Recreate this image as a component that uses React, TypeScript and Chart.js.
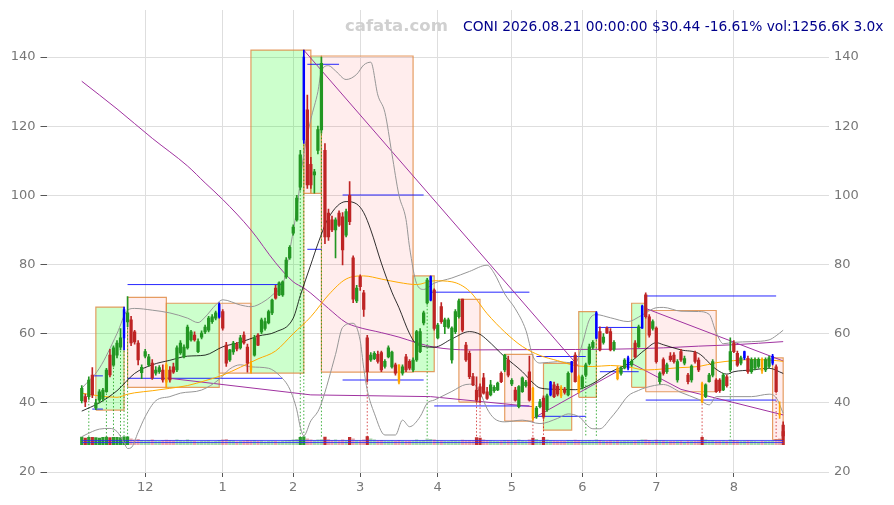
import React, { useEffect, useRef } from 'react';
import { Chart, registerables } from 'chart.js';

Chart.register(...registerables);

// ---------------- data ----------------
const OPEN = [
  40.6, 41.8, 41.8, 48.0, 38.5, 40.8, 41.1, 43.2, 53.8, 50.9,
  53.8, 56.1, 58.8, 63.4, 64.0, 60.5, 57.3, 48.7, 53.5, 51.0,
  51.5, 48.6, 49.0, 49.5, 51.0, 49.5, 50.4, 49.5, 54.4, 53.3,
  55.9, 58.2, 59.6, 54.8, 59.0, 60.5, 61.0, 63.5, 64.5, 64.8,
  66.4, 56.7, 52.4, 54.7, 57.0, 55.9, 59.6, 56.1, 51.0, 53.8,
  59.6, 60.5, 61.5, 63.1, 66.0, 73.2, 71.2, 71.2, 76.4, 81.9,
  89.1, 92.9, 102.4, 116.0, 124.7, 109.0, 105.9, 113.0, 118.9, 113.0,
  94.9, 92.9, 90.0, 94.9, 93.8, 88.5, 100.0, 81.9, 69.5, 76.5,
  71.8, 58.8, 52.4, 52.8, 54.0, 54.5, 50.5, 53.3, 50.4, 51.0,
  51.0, 48.6, 53.3, 52.0, 49.5, 52.4, 54.8, 63.1, 68.9, 69.7,
  72.6, 58.8, 67.8, 62.0, 61.9, 52.4, 60.6, 64.9, 70.0, 56.7,
  54.3, 47.6, 43.7, 44.6, 47.2, 43.2, 42.3, 43.5, 43.7, 48.5,
  49.5, 52.4, 45.5, 43.7, 38.9, 43.2, 45.0, 49.0, 44.2, 35.9,
  38.9, 41.4, 38.0, 42.3, 45.2, 44.8, 44.5, 44.0, 42.3, 49.0,
  53.8, 47.6, 44.5, 48.0, 51.4, 56.0, 58.7, 60.6, 57.5, 61.6,
  60.6, 55.5, 50.0, 48.5, 50.1, 50.0, 51.0, 57.3, 56.2, 61.6,
  71.2, 64.9, 61.5, 61.6, 46.1, 52.5, 49.0, 53.5, 53.8, 46.6,
  54.8, 51.5, 48.0, 46.6, 54.5, 52.4, 45.6, 41.8, 46.1, 48.0,
  46.6, 46.6, 43.7, 47.5, 49.5, 57.2, 54.3, 51.5, 53.0, 52.9,
  49.0, 50.0, 50.5, 52.5, 49.5, 50.5, 51.5, 50.4, 37.0, 33.6,
];
const HIGH = [
  45.0, 42.5, 47.5, 50.2, 41.0, 43.8, 44.2, 50.0, 55.5, 56.5,
  58.0, 61.5, 67.7, 70.7, 65.0, 61.0, 58.0, 51.0, 55.5, 54.0,
  52.5, 50.5, 50.8, 51.0, 51.5, 50.5, 51.5, 56.5, 58.0, 56.8,
  62.5, 61.0, 60.5, 58.5, 60.8, 62.5, 65.0, 65.5, 66.5, 68.9,
  67.0, 57.5, 55.5, 57.8, 57.5, 59.5, 60.5, 57.0, 52.0, 59.5,
  60.0, 64.5, 64.5, 66.8, 70.0, 74.0, 75.0, 75.3, 82.0, 85.5,
  91.5, 100.0, 113.0, 142.0, 129.0, 111.0, 107.5, 120.0, 140.0, 115.0,
  96.0, 94.0, 93.5, 95.5, 95.0, 96.0, 104.0, 82.5, 74.0, 77.0,
  72.5, 59.5, 54.5, 54.8, 55.0, 55.0, 52.5, 56.5, 55.0, 51.5,
  51.0, 51.0, 54.0, 52.5, 53.0, 61.0, 61.5, 66.5, 76.0, 76.7,
  73.0, 63.0, 69.0, 64.5, 64.5, 62.0, 67.0, 70.0, 70.0, 57.5,
  55.0, 48.5, 47.5, 45.5, 48.5, 44.5, 46.5, 45.0, 46.0, 49.0,
  54.0, 53.5, 47.0, 44.5, 45.0, 47.5, 46.5, 53.5, 44.5, 39.0,
  41.0, 42.0, 42.5, 46.2, 46.0, 45.5, 45.0, 44.5, 49.0, 52.0,
  54.5, 48.0, 48.0, 51.5, 57.0, 58.0, 66.4, 62.0, 60.0, 62.0,
  61.5, 58.0, 50.5, 50.5, 52.8, 53.5, 52.5, 58.0, 62.5, 68.3,
  71.8, 65.5, 64.0, 62.0, 49.0, 53.0, 51.5, 54.5, 54.5, 52.5,
  55.5, 53.5, 48.5, 51.0, 55.0, 53.0, 46.0, 45.5, 48.5, 52.5,
  47.0, 47.0, 48.5, 48.0, 58.8, 58.0, 55.0, 53.5, 55.0, 53.5,
  53.0, 53.0, 53.0, 53.0, 53.0, 53.5, 54.0, 51.0, 40.3, 34.5,
];
const LOW = [
  40.0, 38.9, 41.0, 41.5, 38.0, 40.0, 40.5, 43.0, 47.5, 50.5,
  53.0, 55.3, 55.3, 62.0, 56.5, 57.0, 51.0, 47.0, 53.0, 50.5,
  46.8, 48.0, 48.5, 46.0, 44.3, 46.0, 48.5, 49.0, 54.0, 53.0,
  55.5, 57.8, 57.8, 54.5, 58.5, 60.0, 60.5, 63.0, 64.0, 64.5,
  61.0, 50.5, 52.0, 54.0, 55.0, 55.5, 57.0, 48.9, 48.6, 53.5,
  56.5, 60.0, 61.0, 62.8, 65.5, 70.0, 71.0, 70.8, 76.0, 81.5,
  88.5, 92.5, 101.5, 115.0, 102.0, 102.0, 100.6, 112.0, 118.0, 86.0,
  87.0, 89.5, 81.9, 91.0, 79.9, 88.0, 91.5, 69.0, 69.0, 72.5,
  65.0, 46.0, 52.0, 52.5, 51.5, 49.0, 50.0, 53.0, 50.0, 48.0,
  45.5, 48.0, 49.0, 49.5, 49.0, 52.0, 54.5, 62.5, 68.5, 69.5,
  61.0, 58.5, 63.0, 60.0, 61.5, 51.5, 60.0, 64.5, 60.5, 52.0,
  47.0, 45.0, 40.2, 40.0, 42.5, 41.0, 42.0, 43.0, 43.5, 45.8,
  49.0, 47.5, 45.0, 40.5, 38.5, 43.0, 44.5, 40.5, 35.0, 35.5,
  38.5, 35.5, 37.5, 42.0, 41.5, 42.0, 41.5, 42.5, 42.0, 48.8,
  46.0, 42.8, 44.0, 47.5, 51.0, 55.5, 58.5, 55.0, 57.0, 60.0,
  55.0, 55.0, 46.6, 48.0, 49.8, 49.5, 50.5, 53.0, 56.0, 61.5,
  64.5, 59.0, 61.0, 51.5, 45.5, 48.0, 48.5, 52.0, 51.5, 46.0,
  52.0, 51.0, 45.5, 46.0, 51.5, 49.0, 40.0, 41.5, 46.0, 47.5,
  43.0, 43.0, 43.5, 44.5, 49.0, 54.5, 50.5, 51.0, 52.5, 48.5,
  48.5, 49.5, 50.0, 48.5, 49.0, 50.0, 51.0, 43.0, 35.5, 29.5,
];
const CLOSE = [
  44.2, 40.3, 46.6, 42.3, 40.0, 43.2, 43.7, 49.5, 48.1, 55.9,
  57.3, 58.8, 67.0, 66.0, 57.3, 57.6, 52.4, 50.3, 54.8, 53.3,
  47.2, 49.5, 50.2, 46.6, 46.0, 46.6, 48.9, 55.9, 57.3, 56.1,
  61.9, 60.5, 58.2, 57.7, 60.2, 61.9, 64.5, 64.9, 66.0, 68.5,
  61.6, 51.5, 55.3, 57.3, 55.6, 58.8, 57.3, 51.5, 49.5, 58.8,
  56.7, 64.0, 63.5, 66.4, 69.7, 70.3, 74.7, 75.0, 81.3, 85.0,
  90.8, 99.2, 111.7, 140.0, 103.0, 103.0, 106.8, 119.0, 138.2, 88.0,
  88.0, 90.0, 92.9, 91.4, 84.2, 95.3, 92.4, 70.0, 73.2, 73.6,
  67.0, 49.0, 53.8, 54.3, 52.0, 49.5, 52.0, 55.9, 54.7, 48.6,
  46.0, 50.4, 49.5, 50.0, 52.4, 60.6, 60.6, 66.0, 75.5, 76.5,
  61.5, 62.5, 63.5, 64.0, 64.0, 61.6, 66.4, 69.5, 61.0, 52.4,
  47.6, 45.2, 40.8, 41.7, 42.8, 41.3, 45.2, 44.5, 45.7, 46.1,
  53.8, 48.0, 46.5, 40.8, 44.7, 47.2, 46.0, 40.8, 35.5, 38.5,
  40.3, 35.9, 42.0, 46.0, 41.8, 42.5, 42.0, 43.0, 48.5, 51.9,
  46.1, 43.0, 47.5, 51.0, 56.2, 57.5, 66.0, 55.3, 59.0, 60.2,
  55.3, 57.5, 47.0, 50.0, 52.4, 53.0, 52.0, 53.3, 62.0, 68.0,
  64.9, 59.6, 63.5, 51.9, 48.6, 48.5, 51.0, 52.5, 51.9, 51.9,
  52.4, 52.8, 46.1, 50.6, 52.0, 49.5, 40.3, 45.2, 48.0, 51.9,
  43.2, 43.5, 48.0, 45.0, 54.8, 54.8, 50.9, 53.0, 54.8, 49.0,
  52.5, 52.5, 52.6, 49.2, 52.5, 53.0, 53.5, 43.2, 36.5, 30.44,
];
// volume in thousands
const VOLUME = [
  730, 640, 720, 700, 680, 650, 700, 740, 690, 700,
  720, 680, 760, 750, 560, 480, 520, 430, 380, 420,
  470, 360, 330, 400, 450, 420, 380, 470, 400, 350,
  460, 380, 330, 300, 340, 360, 380, 300, 330, 420,
  460, 520, 420, 380, 300, 330, 360, 420, 380, 400,
  350, 380, 300, 330, 360, 320, 300, 350, 400, 420,
  480, 520, 700, 760, 560, 460, 400, 480, 500, 740,
  500, 420, 460, 380, 480, 420, 720, 560, 420, 400,
  460, 780, 560, 480, 400, 420, 380, 350, 400, 360,
  420, 380, 340, 360, 380, 460, 400, 430, 560, 520,
  480, 430, 380, 350, 330, 420, 400, 380, 450, 430,
  420, 400, 680, 640, 460, 420, 400, 350, 330, 360,
  420, 400, 380, 420, 460, 400, 350, 460, 650, 520,
  420, 720, 480, 400, 380, 350, 360, 330, 420, 400,
  450, 420, 380, 400, 430, 380, 480, 420, 360, 330,
  380, 340, 400, 330, 350, 380, 320, 360, 420, 460,
  480, 420, 360, 450, 400, 380, 340, 320, 330, 360,
  340, 300, 360, 330, 340, 380, 720, 460, 380, 400,
  360, 340, 380, 330, 460, 420, 380, 330, 350, 380,
  340, 320, 300, 340, 320, 330, 350, 520, 560, 1256.6,
];
const VOLUME_REF = [410, 215];

const BLUE_MARK = [12, 39, 63, 99, 133, 139, 146, 155, 159, 188, 196];
const ORANGE_MARK = [24, 48, 90, 128, 136, 141, 152, 176, 193, 198];
const GREEN_DOT = [2, 7, 9, 11, 12, 13, 62, 63, 68, 98, 143, 146, 184];
const RED_DOT = [81, 112, 113, 128, 131, 176, 197, 199];

const MONTH_TICKS = [18, 40, 60, 79, 101, 122, 142, 163, 185];
const MONTH_LABELS = ['12', '1', '2', '3', '4', '5', '6', '7', '8'];
const PRICE_TICKS = [20, 40, 60, 80, 100, 120, 140];

// swing boxes
const BOX_START = [4, 13, 24, 39, 48, 63, 65, 68, 94, 107, 120, 131, 141, 156, 160, 196];
const BOX_END = [12, 24, 39, 48, 63, 65, 68, 94, 100, 113, 128, 139, 146, 160, 180, 199];
const BOX_TOP = [67.7, 70.5, 68.8, 68.8, 142.0, 142.0, 140.3, 140.3, 76.7, 69.9, 54.0, 51.4, 66.4, 68.8, 66.7, 53.0];
const BOX_BOTTOM = [37.9, 44.5, 44.5, 48.6, 48.6, 100.6, 100.6, 48.9, 49.0, 40.2, 34.7, 32.1, 41.6, 44.5, 43.2, 29.3];
const BOX_UP = [true, false, true, false, true, false, true, false, true, false, false, true, true, true, false, false];

// horizontal levels (blue)
const LEVEL_START = [3, 3, 13, 13, 64, 64, 74, 74, 99, 100, 129, 129, 146.5, 147, 160, 160];
const LEVEL_END = [6, 6, 57, 57, 73, 68, 97, 97, 127, 127, 143, 143, 159, 158, 197, 197];
const LEVEL_VALUE = [47.8, 38.2, 74.2, 47.1, 137.9, 84.4, 100.1, 46.6, 72.0, 39.1, 53.4, 36.1, 61.8, 49.0, 70.9, 40.8];

// trend lines (purple)
const TREND_X = [[63, 141], [160, 199], [24, 65, 99, 128], [128, 156], [156, 170, 199]];
const TREND_Y = [[142, 50.5], [67.3, 52.1], [47.2, 42.3, 41.8, 38.9], [35.5, 51.4], [51.4, 43.9, 36.5]];

// indicator lines
const MA20_IDX = [0, 5, 10, 15, 20, 25, 30, 35, 40, 45, 50, 55, 60, 62, 65, 67, 70, 75, 78, 80, 82, 85, 88, 90, 93, 95, 100, 105, 110, 113, 115, 120, 125, 128, 130, 135, 140, 145, 150, 155, 160, 163, 165, 170, 175, 180, 183, 185, 190, 195, 199];
const MA20_VAL = [37.6, 40.0, 43.5, 48.5, 51.0, 52.3, 53.5, 53.8, 56.2, 57.5, 59.3, 60.5, 64.5, 71, 80, 86, 93.5, 98.2, 97.5, 95, 90, 80.4, 72, 67.5, 60, 57.0, 56.1, 58.5, 60.6, 59.8, 58.2, 53.3, 49.0, 45.8, 44.3, 43.9, 43.8, 45.6, 48.9, 51.3, 55.5, 57.4, 56.8, 55.3, 54.3, 49.7, 48.3, 49.0, 49.5, 50, 48.5];
const MA50_IDX = [0, 5, 10, 13, 15, 20, 25, 30, 35, 40, 45, 50, 55, 60, 65, 70, 75, 80, 85, 90, 95, 100, 105, 110, 115, 120, 125, 130, 135, 140, 145, 150, 155, 160, 165, 170, 175, 180, 185, 190, 195, 199];
const MA50_VAL = [42.8, 42.0, 41.6, 42.5, 42.9, 43.5, 44.2, 45.0, 46.4, 48.0, 50.3, 52.7, 55.0, 60.0, 64.9, 71.2, 75.8, 76.7, 75.8, 74.8, 74.2, 75.3, 75.0, 72.3, 65.8, 60.5, 56.3, 53.7, 52.2, 50.8, 50.5, 50.8, 50.4, 49.5, 49.8, 50.2, 50.5, 51.6, 52.2, 52.5, 52.4, 52.0];
const BBU_IDX = [0, 5, 10, 13, 15, 20, 25, 30, 33, 35, 38, 40, 45, 48, 52, 55, 57, 59, 61, 63, 65, 67, 68, 70, 72, 75, 78, 80, 82, 84, 86, 88, 90, 92, 93, 95, 97, 100, 105, 110, 115, 117, 120, 123, 126, 128, 130, 135, 140, 142, 144, 146, 150, 155, 158, 160, 163, 165, 170, 175, 178, 180, 182, 185, 190, 195, 197, 199];
const BBU_VAL = [44.2, 50, 60, 66.8, 67.3, 66.8, 66, 64.5, 63.2, 64.8, 68.3, 69.8, 68.3, 67.8, 69.5, 72, 74, 84, 96, 112, 122, 130, 136, 137.5, 136, 133.5, 135, 137.7, 138.5, 129, 124, 112, 100, 93, 85, 74.5, 72.8, 74.6, 76.1, 78, 79.8, 77.5, 71.5, 67.2, 61, 53.5, 51.5, 51.9, 51.5, 57, 64, 65.5, 64.6, 63.5, 64.8, 66, 67.5, 67.6, 66.5, 66.4, 65.6, 60.3, 57.1, 57.5, 57.7, 58.2, 59.4, 61];
const BBL_IDX = [0, 3, 5, 8, 10, 12, 13, 14, 16, 18, 21, 25, 28, 34, 39, 42, 45, 48, 53, 56, 59, 61, 62, 63, 65, 67, 68, 72, 74, 77, 79, 80, 81, 83, 86, 89, 91, 93, 96, 98, 100, 105, 109, 111, 113, 115, 117, 120, 125, 130, 135, 138, 141, 145, 147, 150, 152, 155, 158, 160, 165, 170, 175, 178, 180, 185, 190, 195, 197, 199];
const BBL_VAL = [30.2, 31.7, 32.4, 32.6, 31.7, 28.5, 26.8, 27.0, 31.5, 36, 40.6, 41.8, 42.8, 43.7, 46.8, 49.8, 51, 50.4, 50, 48, 44, 38, 33, 30.5, 34.8, 37.5, 39.9, 54, 61.8, 63, 58, 50, 43.7, 37, 30.7, 30.7, 35, 33.1, 36, 39.9, 40.8, 43.3, 45.3, 45.4, 43, 38.3, 35.5, 34.5, 35, 34, 35.5, 36.8, 36, 32.5, 32.5, 35.5, 38, 42, 43.6, 44.4, 45.3, 43, 41, 39.4, 41.8, 41.8, 41.8, 42.5, 41.5, 37];
const LMA_IDX = [0, 10, 20, 30, 35, 40, 48, 55, 60, 63, 65, 70, 75, 78, 85, 90, 95, 100, 110, 130, 150, 165, 175, 185, 199];
const LMA_VAL = [133, 125, 116.5, 108.5, 103.6, 98.8, 90, 80.5, 75, 73.2, 71.7, 67.3, 63.2, 62, 60.3, 59, 57.4, 56.1, 55.3, 55.4, 55.5, 55.9, 56.4, 56.8, 57.7];

// ---------------- styles ----------------
const FONT = 'DejaVu Sans';
const UP = 'rgb(34,150,34)';
const DOWN = 'rgb(190,36,36)';
const BLUE = 'rgb(0,0,255)';
const ORANGE = 'rgb(255,165,0)';

const zip = (xs: number[], ys: number[]) => xs.map((x, i) => ({ x, y: ys[i] }));

function candleColor(i: number) {
  if (BLUE_MARK.includes(i)) return BLUE;
  if (ORANGE_MARK.includes(i)) return ORANGE;
  return CLOSE[i] >= OPEN[i] ? UP : DOWN;
}

function lineDs(data: any[], color: string, width: number, order: number, extra: any = {}) {
  return {
    type: 'line',
    data,
    borderColor: color,
    borderWidth: width,
    pointRadius: 0,
    pointHoverRadius: 0,
    fill: false,
    tension: 0,
    order,
    ...extra,
  };
}

const noPad = (s: any) => {
  s.paddingTop = 0;
  s.paddingBottom = 0;
  s.paddingLeft = 0;
  s.paddingRight = 0;
};

function buildConfig() {
  const idx = CLOSE.map((_, i) => i);
  const isMark = (i: number) => BLUE_MARK.includes(i) || ORANGE_MARK.includes(i);

  const datasets: any[] = [];

  datasets.push({
    type: 'bar',
    data: idx.map((i) => ({ x: i, y: isMark(i) ? null : [OPEN[i], CLOSE[i]] })),
    backgroundColor: idx.map(candleColor),
    barThickness: 2.6,
    grouped: false,
    order: 0,
  });
  datasets.push({
    type: 'bar',
    data: idx.map((i) => ({ x: i, y: isMark(i) ? [OPEN[i], CLOSE[i]] : null })),
    backgroundColor: idx.map(candleColor),
    barThickness: 1.8,
    grouped: false,
    order: 0,
  });
  datasets.push({
    type: 'bar',
    data: idx.map((i) => ({ x: i, y: [LOW[i], HIGH[i]] })),
    backgroundColor: idx.map(candleColor),
    barThickness: 1,
    grouped: false,
    order: 1,
  });

  const smooth = { cubicInterpolationMode: 'monotone' };
  datasets.push(lineDs(zip(MA20_IDX, MA20_VAL), 'rgba(0,0,0,0.9)', 0.9, 2, smooth));
  datasets.push(lineDs(zip(MA50_IDX, MA50_VAL), 'rgb(255,170,0)', 1, 3, smooth));
  datasets.push(lineDs(zip(BBU_IDX, BBU_VAL), 'rgb(150,150,150)', 1, 4, smooth));
  datasets.push(lineDs(zip(BBL_IDX, BBL_VAL), 'rgb(150,150,150)', 1, 4, smooth));
  datasets.push(lineDs(zip(LMA_IDX, LMA_VAL), 'rgb(160,50,160)', 1, 4, smooth));

  const trend: any[] = [];
  TREND_X.forEach((xs, k) => {
    xs.forEach((x, j) => trend.push({ x, y: TREND_Y[k][j] }));
    trend.push({ x: xs[xs.length - 1], y: null });
  });
  datasets.push(lineDs(trend, 'rgb(160,50,160)', 1, 5));

  const levels: any[] = [];
  LEVEL_VALUE.forEach((v, k) => {
    levels.push({ x: LEVEL_START[k], y: v }, { x: LEVEL_END[k], y: v }, { x: LEVEL_END[k], y: null });
  });
  datasets.push(lineDs(levels, 'rgba(0,0,255,0.85)', 1, 5));

  const dots = (list: number[]) => {
    const out: any[] = [];
    list.forEach((i) => {
      out.push({ x: i, y: LOW[i] - 0.3 }, { x: i, y: 30 }, { x: i, y: null });
    });
    return out;
  };
  datasets.push(lineDs(dots(GREEN_DOT), 'rgba(0,150,0,0.75)', 1, 6, { borderDash: [1.5, 2] }));
  datasets.push(lineDs(dots(RED_DOT), 'rgba(200,0,0,0.7)', 1, 6, { borderDash: [1.5, 2] }));

  VOLUME_REF.forEach((v) => {
    datasets.push(lineDs([{ x: 0, y: v }, { x: 199, y: v }], 'rgba(40,40,255,0.8)', 1, 7, { yAxisID: 'yv' }));
  });
  datasets.push({
    type: 'bar',
    yAxisID: 'yv',
    data: idx.map((i) => ({ x: i, y: [0, VOLUME[i]] })),
    backgroundColor: idx.map((i) => {
      const a = VOLUME[i] >= 600 ? 0.95 : 0.4;
      return CLOSE[i] >= OPEN[i] ? `rgba(34,150,34,${a})` : `rgba(190,36,36,${a})`;
    }),
    barThickness: 2.6,
    grouped: false,
    order: 8,
  });

  BOX_START.forEach((s, k) => {
    const e = BOX_END[k];
    const t = BOX_TOP[k];
    const b = BOX_BOTTOM[k];
    datasets.push(
      lineDs(
        [
          { x: s, y: b },
          { x: s, y: t },
          { x: e, y: t },
          { x: e, y: b },
          { x: s, y: b },
        ],
        'rgba(225,140,70,0.85)',
        1.2,
        10,
        {
          fill: 'shape',
          backgroundColor: BOX_UP[k] ? 'rgba(0,255,0,0.2)' : 'rgba(255,0,0,0.07)',
        }
      )
    );
  });

  const tickFont = { family: FONT, size: 13 };

  return {
    type: 'line',
    data: { datasets },
    options: {
      animation: false,
      responsive: true,
      maintainAspectRatio: false,
      events: [],
      layout: { padding: { top: 2, left: 0, right: 0, bottom: 0 } },
      plugins: {
        legend: { display: false },
        tooltip: { enabled: false },
        title: { display: false },
      },
      scales: {
        x: {
          type: 'linear',
          min: -10,
          max: 212,
          offset: false,
          afterBuildTicks: (s: any) => {
            s.ticks = MONTH_TICKS.map((v) => ({ value: v }));
          },
          afterFit: (s: any) => {
            s.height = 25;
            noPad(s);
          },
          ticks: {
            autoSkip: false,
            maxRotation: 0,
            padding: 3,
            color: '#777',
            font: tickFont,
            callback: (v: any) => {
              const k = MONTH_TICKS.indexOf(v);
              return k >= 0 ? MONTH_LABELS[k] : '';
            },
          },
          grid: { color: '#dedede', tickLength: 5, tickColor: '#555', offset: false },
          border: { display: false },
        },
        y: {
          position: 'left',
          min: 20,
          max: 153.6,
          afterBuildTicks: (s: any) => {
            s.ticks = PRICE_TICKS.map((v) => ({ value: v }));
          },
          afterFit: (s: any) => {
            s.width = 38.5;
            noPad(s);
          },
          ticks: { padding: 5, color: '#777', font: tickFont },
          grid: { color: '#dedede', tickLength: 6, tickColor: '#555' },
          border: { display: false },
        },
        y2: {
          position: 'right',
          min: 20,
          max: 153.6,
          afterBuildTicks: (s: any) => {
            s.ticks = PRICE_TICKS.map((v) => ({ value: v }));
          },
          afterFit: (s: any) => {
            s.width = 57;
            noPad(s);
          },
          ticks: { padding: 5, color: '#777', font: tickFont },
          grid: { drawOnChartArea: false, drawTicks: false },
          border: { display: false },
        },
        yv: {
          display: false,
          min: -2620,
          max: 41770,
        },
      },
    },
  };
}

export default function App() {
  const ref = useRef<HTMLCanvasElement | null>(null);
  useEffect(() => {
    if (!ref.current) return;
    Chart.defaults.font.family = FONT;
    const chart = new Chart(ref.current, buildConfig() as any);
    return () => chart.destroy();
  }, []);
  return (
    <div style={{ position: 'relative', width: 878, height: 489 }}>
      <canvas ref={ref} />
      <div
        style={{
          position: 'absolute',
          left: 337,
          top: 9,
          fontFamily: FONT,
          fontWeight: 'bold',
          fontSize: 16.5,
          lineHeight: '18px',
          color: '#d0d0d0',
          whiteSpace: 'nowrap',
        }}
      >
        cafata.com
      </div>
      <div
        style={{
          position: 'absolute',
          left: 455,
          top: 10,
          fontFamily: FONT,
          fontSize: 13.8,
          lineHeight: '16px',
          color: '#00008b',
          whiteSpace: 'nowrap',
        }}
      >
        CONI 2026.08.21 00:00:00 $30.44 -16.61% vol:1256.6K 3.0x
      </div>
    </div>
  );
}
